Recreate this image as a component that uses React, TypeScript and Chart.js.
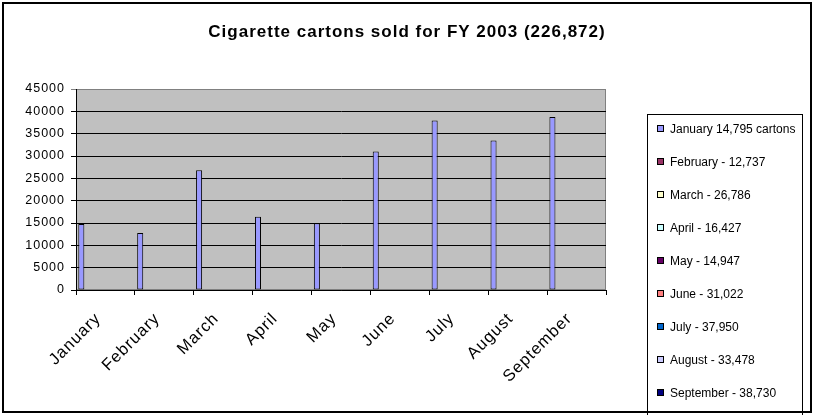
import React, { useEffect, useRef } from 'react';
import { Chart, registerables } from 'chart.js';

Chart.register(...registerables);

const months = ['January', 'February', 'March', 'April', 'May', 'June', 'July', 'August', 'September'];
const cartons = [14795, 12737, 26786, 16427, 14947, 31022, 37950, 33478, 38730];
const legendLabels = [
  'January 14,795 cartons',
  'February - 12,737',
  'March - 26,786',
  'April - 16,427',
  'May - 14,947',
  'June - 31,022',
  'July - 37,950',
  'August - 33,478',
  'September - 38,730',
];
const legendColors = ['#9999FF', '#993366', '#FFFFCC', '#CCFFFF', '#660066', '#FF8080', '#0066CC', '#CCCCFF', '#000080'];
const titleText = 'Cigarette cartons sold for FY 2003 (226,872)';
const yMin = 0;
const yMax = 45000;
const yStep = 5000;

const FONT = '"Liberation Sans", Arial, sans-serif';

const excelPlugin = {
  id: 'excelLook',
  beforeLayout(chart: any) {
    chart.ctx.letterSpacing = '1px';
  },
  beforeDraw(chart: any) {
    const { ctx, chartArea: a } = chart;
    ctx.save();
    ctx.fillStyle = '#ffffff';
    ctx.fillRect(0, 0, chart.width, chart.height);
    ctx.fillStyle = '#C0C0C0';
    ctx.fillRect(a.left, a.top, a.right - a.left, a.bottom - a.top);
    ctx.strokeStyle = '#808080';
    ctx.lineWidth = 1;
    ctx.strokeRect(a.left + 0.5, a.top + 0.5, a.right - a.left - 1, a.bottom - a.top - 1);
    ctx.restore();
    ctx.letterSpacing = '1px';
  },
  afterDraw(chart: any) {
    const { ctx, chartArea: a } = chart;
    ctx.save();
    // Title
    ctx.letterSpacing = '1px';
    ctx.fillStyle = '#000';
    ctx.font = 'bold 17px ' + FONT;
    ctx.textAlign = 'center';
    ctx.textBaseline = 'alphabetic';
    ctx.fillText(titleText, chart.width / 2, 37);

    // Legend
    ctx.letterSpacing = '0px';
    const lx = a.right + 41.5;
    const ly = a.top + 25.5;
    ctx.strokeStyle = '#000';
    ctx.lineWidth = 1;
    ctx.fillStyle = '#fff';
    ctx.fillRect(lx, ly, 155, chart.height - ly + 5);
    ctx.strokeRect(lx, ly, 155, chart.height - ly + 5);
    ctx.font = '12px ' + FONT;
    ctx.textAlign = 'left';
    ctx.textBaseline = 'middle';
    chart.data.datasets.forEach((ds: any, i: number) => {
      const cy = Math.round(ly + 14 + i * 33);
      ctx.fillStyle = ds.backgroundColor;
      ctx.fillRect(lx + 10, cy - 3.5, 6, 6);
      ctx.strokeStyle = '#000';
      ctx.strokeRect(lx + 10, cy - 3.5, 6, 6);
      ctx.fillStyle = '#000';
      ctx.fillText(ds.label, lx + 22.5, cy + 0.5);
    });

    // Outer border
    ctx.strokeStyle = '#000';
    ctx.lineWidth = 2;
    ctx.strokeRect(3, 3, chart.width - 6, chart.height - 6);
    ctx.restore();
  },
};

export default function App() {
  const ref = useRef<HTMLCanvasElement | null>(null);

  useEffect(() => {
    if (!ref.current) return;
    const chart = new Chart(ref.current, {
      type: 'bar',
      data: {
        labels: months,
        datasets: legendLabels.map((label, i) => ({
          label,
          data: i === 0 ? cartons : months.map(() => null),
          backgroundColor: legendColors[i],
          borderColor: '#000000',
          borderWidth: 1,
          borderSkipped: false,
          categoryPercentage: 0.922,
          barPercentage: 1,
        })),
      },
      options: {
        responsive: false,
        animation: false,
        devicePixelRatio: 1,
        layout: { padding: { top: 89, right: 208, bottom: 0, left: 0 } },
        plugins: {
          legend: { display: false },
          title: { display: false },
          tooltip: { enabled: false },
        },
        scales: {
          x: {
            offset: true,
            grid: {
              display: true,
              offset: true,
              drawOnChartArea: false,
              drawTicks: true,
              tickLength: 5,
              color: '#000',
            },
            border: { display: true, color: '#000', width: 1 },
            ticks: {
              autoSkip: false,
              minRotation: 45,
              maxRotation: 45,
              padding: 14,
              labelOffset: -7,
              color: '#000',
              font: { family: FONT, size: 16.5 },
            },
            afterFit(scale: any) {
              scale.height = 125;
            },
          },
          y: {
            min: yMin,
            max: yMax,
            ticks: {
              stepSize: yStep,
              padding: 6,
              color: '#000',
              font: { family: FONT, size: 12.5 },
              callback: (v: any) => String(v),
            },
            grid: {
              color: (c: any) => (c.tick && c.tick.value === yMax ? '#808080' : '#000'),
              lineWidth: 1,
              drawTicks: true,
              tickLength: 5,
            },
            border: { display: true, color: '#000', width: 1 },
            afterFit(scale: any) {
              scale.width = 76;
            },
          },
        },
      },
      plugins: [excelPlugin],
    });
    return () => chart.destroy();
  }, []);

  return (
    <div style={{ position: 'absolute', left: 0, top: 0, width: 814, height: 415, background: '#fff' }}>
      <canvas ref={ref} width={814} height={415} style={{ display: 'block' }} />
    </div>
  );
}
